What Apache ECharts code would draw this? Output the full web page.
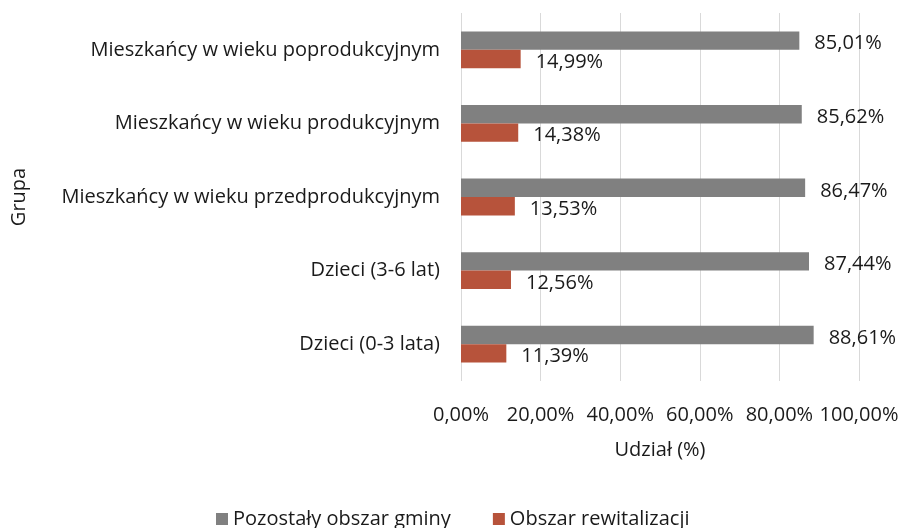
<!DOCTYPE html>
<html>
<head>
<meta charset="utf-8">
<script src="https://cdn.jsdelivr.net/npm/echarts@6/dist/echarts.min.js"></script>
<style>html,body{margin:0;padding:0;background:#fff}#c{width:903px;height:528px}</style>
</head>
<body>
<div id="c"></div>
<script>
var categories = ['Mieszkańcy w wieku poprodukcyjnym','Mieszkańcy w wieku produkcyjnym','Mieszkańcy w wieku przedprodukcyjnym','Dzieci (3-6 lat)','Dzieci (0-3 lata)'];
var seriesNames = ['Pozostały obszar gminy','Obszar rewitalizacji'];
var pozostaly = [85.01, 85.62, 86.47, 87.44, 88.61];
var rewitalizacja = [14.99, 14.38, 13.53, 12.56, 11.39];
var xTicks = [0, 20, 40, 60, 80, 100];

var FONT = 'Open Sans';
var FS = 20;
var TXT = '#1a1a1a';
function pct(v){ return v.toFixed(2).replace('.', ',') + '%'; }
var chart = echarts.init(document.getElementById('c'));
chart.setOption({
  animation: false,
  textStyle: {fontFamily: FONT},
  grid: {left: 461, right: 44, top: 13, bottom: 147, containLabel: false},
  legend: {
    data: seriesNames, left: 211, top: 504, itemWidth: 12, itemHeight: 12, itemGap: 42,
    icon: 'rect', textStyle: {fontFamily: FONT, fontSize: FS, color: TXT}
  },
  xAxis: {
    type: 'value', min: xTicks[0], max: xTicks[xTicks.length-1], interval: 20,
    name: 'Udział (%)', nameLocation: 'middle', nameGap: 59,
    nameTextStyle: {fontFamily: FONT, fontSize: FS, color: TXT},
    axisLine: {show: false}, axisTick: {show: false},
    axisLabel: {margin: 24, fontFamily: FONT, fontSize: FS, color: TXT, formatter: function(v){ return pct(v); }},
    splitLine: {show: true, lineStyle: {color: '#d9d9d9', width: 1}}
  },
  yAxis: {
    type: 'category', data: categories, inverse: true,
    name: 'Grupa', nameLocation: 'middle', nameGap: 432, nameRotate: 90,
    nameTextStyle: {fontFamily: FONT, fontSize: FS, color: TXT},
    axisLine: {show: false}, axisTick: {show: false},
    axisLabel: {margin: 21, fontFamily: FONT, fontSize: FS, color: TXT}
  },
  series: [
    {name: seriesNames[0], type: 'bar', data: pozostaly, barGap: '0%', barCategoryGap: '50%',
     itemStyle: {color: '#808080'},
     label: {show: true, position: 'right', distance: 15, offset: [0, 3], fontFamily: FONT, fontSize: FS, color: TXT, formatter: function(p){ return pct(p.value); }}},
    {name: seriesNames[1], type: 'bar', data: rewitalizacja, barGap: '0%', barCategoryGap: '50%',
     itemStyle: {color: '#b7533b'},
     label: {show: true, position: 'right', distance: 15, offset: [0, 3], fontFamily: FONT, fontSize: FS, color: TXT, formatter: function(p){ return pct(p.value); }}}
  ]
});
</script>
</body>
</html>
